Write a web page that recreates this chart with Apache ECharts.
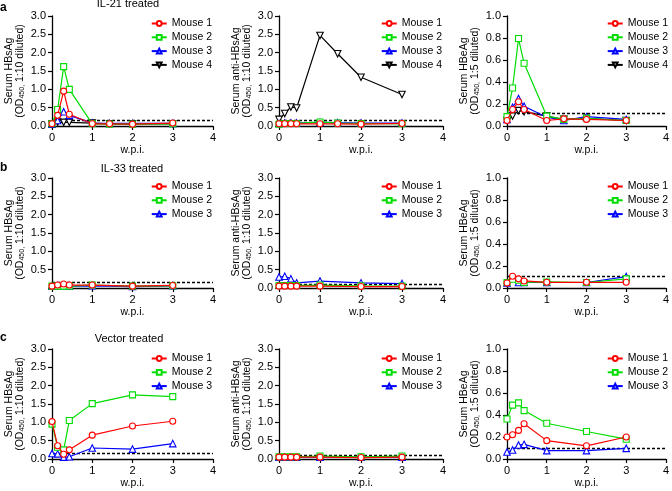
<!DOCTYPE html>
<html><head><meta charset="utf-8">
<script src="https://cdn.jsdelivr.net/npm/echarts@6/dist/echarts.min.js"></script>
<style>html,body{margin:0;padding:0;background:#fff}#c{width:672px;height:491px}</style>
</head><body><div id="c"></div>
<script>
// ---- data ----
const weeksA = [0, 0.14, 0.29, 0.43, 1, 1.43, 2, 3];
const weeksBC = [0, 0.14, 0.29, 0.43, 1, 2, 3];
const xTicks = [0, 1, 2, 3, 4];
const mouseNamesA = ['Mouse 1', 'Mouse 2', 'Mouse 3', 'Mouse 4'];
const mouseNamesBC = ['Mouse 1', 'Mouse 2', 'Mouse 3'];
const rowTitles = ['IL-21 treated', 'IL-33 treated', 'Vector treated'];
const rowLetters = ['a', 'b', 'c'];
const colMarkers = ['Serum HBsAg', 'Serum anti-HBsAg', 'Serum HBeAg'];
const colDilution = ['1:10', '1:10', '1:5'];
const colYMax = [3, 3, 1];
const colYInterval = [0.5, 0.5, 0.2];

// IL-21 treated
const il21_HBsAg_m1 = [0.06, 0.29, 0.95, 0.32, 0.06, 0.06, 0.05, 0.08];
const il21_HBsAg_m2 = [0.06, 0.45, 1.62, 1.00, 0.06, 0.05, 0.05, 0.06];
const il21_HBsAg_m3 = [0.05, 0.15, 0.39, 0.29, 0.08, 0.07, 0.07, 0.07];
const il21_HBsAg_m4 = [0.05, 0.10, 0.10, 0.10, 0.08, 0.06, 0.06, 0.06];
const il21_anti_m1 = [0.06, 0.06, 0.06, 0.06, 0.06, 0.06, 0.05, 0.07];
const il21_anti_m2 = [0.05, 0.07, 0.07, 0.07, 0.11, 0.08, 0.07, 0.06];
const il21_anti_m3 = [0.07, 0.08, 0.08, 0.08, 0.10, 0.09, 0.08, 0.08];
const il21_anti_m4 = [0.18, 0.34, 0.52, 0.49, 2.47, 1.97, 1.33, 0.86];
const il21_HBeAg_m1 = [0.05, 0.15, 0.22, 0.15, 0.05, 0.065, 0.06, 0.05];
const il21_HBeAg_m2 = [0.085, 0.345, 0.795, 0.57, 0.09, 0.06, 0.07, 0.05];
const il21_HBeAg_m3 = [0.06, 0.17, 0.25, 0.18, 0.08, 0.05, 0.085, 0.06];
const il21_HBeAg_m4 = [0.05, 0.09, 0.14, 0.13, 0.09, 0.06, 0.07, 0.05];
// IL-33 treated
const il33_HBsAg_m1 = [0.05, 0.08, 0.11, 0.08, 0.08, 0.05, 0.07];
const il33_HBsAg_m2 = [0.05, 0.05, 0.05, 0.05, 0.08, 0.05, 0.06];
const il33_HBsAg_m3 = [0.05, 0.06, 0.06, 0.05, 0.06, 0.04, 0.06];
const il33_anti_m1 = [0.05, 0.05, 0.05, 0.05, 0.05, 0.04, 0.04];
const il33_anti_m2 = [0.07, 0.07, 0.07, 0.07, 0.08, 0.06, 0.05];
const il33_anti_m3 = [0.30, 0.32, 0.25, 0.14, 0.19, 0.14, 0.12];
const il33_HBeAg_m1 = [0.046, 0.107, 0.083, 0.064, 0.052, 0.052, 0.052];
const il33_HBeAg_m2 = [0.05, 0.08, 0.07, 0.05, 0.055, 0.05, 0.083];
const il33_HBeAg_m3 = [0.045, 0.09, 0.05, 0.05, 0.05, 0.05, 0.104];
// Vector treated
const vec_HBsAg_m1 = [1.02, 0.36, 0.13, 0.25, 0.65, 0.90, 1.03];
const vec_HBsAg_m2 = [0.95, 0.32, 0.25, 1.05, 1.51, 1.75, 1.70];
const vec_HBsAg_m3 = [0.15, 0.14, 0.05, 0.06, 0.30, 0.27, 0.42];
const vec_anti_m1 = [0.05, 0.05, 0.05, 0.05, 0.05, 0.04, 0.05];
const vec_anti_m2 = [0.06, 0.06, 0.06, 0.06, 0.08, 0.06, 0.08];
const vec_anti_m3 = [0.05, 0.05, 0.05, 0.05, 0.05, 0.05, 0.05];
const vec_HBeAg_m1 = [0.20, 0.22, 0.26, 0.32, 0.167, 0.12, 0.20];
const vec_HBeAg_m2 = [0.364, 0.49, 0.51, 0.44, 0.325, 0.25, 0.18];
const vec_HBeAg_m3 = [0.064, 0.082, 0.127, 0.133, 0.076, 0.076, 0.097];
// cutoff (dashed line) per panel
const cutoffA = [0.15, 0.15, 0.12];
const cutoffB = [0.15, 0.10, 0.11];
const cutoffC = [0.15, 0.11, 0.10];

// ---- layout / style ----
const FONT = '"Liberation Sans", Arial, Helvetica, sans-serif';
const cols = [{left: 52, width: 161}, {left: 279, width: 164}, {left: 507, width: 162}];
const rows = [{top: 16, height: 110}, {top: 178, height: 110}, {top: 349, height: 110}];
const legendTops = [18, 181, 353];
const styles = [
  {color: '#ff0000', symbol: 'circle', size: 6},
  {color: '#00dd00', symbol: 'rect', size: 6},
  {color: '#0000ff', symbol: 'triangle', size: 6.5},
  {color: '#000000', symbol: 'path://M0,0 L10,0 L5,8.7 Z', size: 6.5}
];

const panels = [
  [{x: weeksA, ys: [il21_HBsAg_m1, il21_HBsAg_m2, il21_HBsAg_m3, il21_HBsAg_m4], names: mouseNamesA, cut: cutoffA[0]},
   {x: weeksA, ys: [il21_anti_m1, il21_anti_m2, il21_anti_m3, il21_anti_m4], names: mouseNamesA, cut: cutoffA[1]},
   {x: weeksA, ys: [il21_HBeAg_m1, il21_HBeAg_m2, il21_HBeAg_m3, il21_HBeAg_m4], names: mouseNamesA, cut: cutoffA[2]}],
  [{x: weeksBC, ys: [il33_HBsAg_m1, il33_HBsAg_m2, il33_HBsAg_m3], names: mouseNamesBC, cut: cutoffB[0], hideZero: true},
   {x: weeksBC, ys: [il33_anti_m1, il33_anti_m2, il33_anti_m3], names: mouseNamesBC, cut: cutoffB[1]},
   {x: weeksBC, ys: [il33_HBeAg_m1, il33_HBeAg_m2, il33_HBeAg_m3], names: mouseNamesBC, cut: cutoffB[2]}],
  [{x: weeksBC, ys: [vec_HBsAg_m1, vec_HBsAg_m2, vec_HBsAg_m3], names: mouseNamesBC, cut: cutoffC[0]},
   {x: weeksBC, ys: [vec_anti_m1, vec_anti_m2, vec_anti_m3], names: mouseNamesBC, cut: cutoffC[1]},
   {x: weeksBC, ys: [vec_HBeAg_m1, vec_HBeAg_m2, vec_HBeAg_m3], names: mouseNamesBC, cut: cutoffC[2]}]
];

const grid = [], xAxis = [], yAxis = [], series = [], legend = [], graphic = [];
const axisLine = {show: true, onZero: false, lineStyle: {color: '#000', width: 1.3}};
const axisTick = {show: true, inside: false, length: 4, lineStyle: {color: '#000', width: 1.2}};

rows.forEach((r, ri) => {
  cols.forEach((c, ci) => {
    const idx = ri * 3 + ci;
    const p = panels[ri][ci];
    grid.push({left: c.left, top: r.top, width: c.width, height: r.height, containLabel: false});
    xAxis.push({
      type: 'value', gridIndex: idx, min: xTicks[0], max: xTicks[xTicks.length - 1], interval: 1,
      axisLine, axisTick, splitLine: {show: false},
      axisLabel: {color: '#000', fontSize: 11, fontFamily: FONT, margin: 6},
      name: 'w.p.i.', nameLocation: 'middle', nameGap: 19,
      nameTextStyle: {color: '#000', fontSize: 10.5, fontFamily: FONT}
    });
    yAxis.push({
      type: 'value', gridIndex: idx, min: 0, max: colYMax[ci], interval: colYInterval[ci],
      axisLine, axisTick, splitLine: {show: false},
      axisLabel: {color: '#000', fontSize: 11, fontFamily: FONT, margin: 6,
        formatter: v => (p.hideZero && v === 0) ? '' : v.toFixed(1)},
      name: '{t|' + colMarkers[ci] + '}\n{t|(OD}{s|450,}{t| ' + colDilution[ci] + ' diluted)}',
      nameLocation: 'middle', nameGap: 26,
      nameTextStyle: {color: '#000', fontFamily: FONT, fontSize: 10.5, lineHeight: 11,
        rich: {t: {fontSize: 10.5, fontFamily: FONT, color: '#000', lineHeight: 11},
               s: {fontSize: 7, fontFamily: FONT, color: '#000', verticalAlign: 'bottom', lineHeight: 11}}}
    });
    // series drawn in reverse so Mouse 1 is on top
    for (let k = p.ys.length - 1; k >= 0; k--) {
      const st = styles[k];
      const s = {
        type: 'line', name: p.names[k], xAxisIndex: idx, yAxisIndex: idx,
        data: p.x.map((xv, i) => [xv, p.ys[k][i]]),
        symbol: st.symbol, symbolSize: st.size,
        lineStyle: {color: st.color, width: 1.2},
        itemStyle: {color: '#fff', borderColor: st.color, borderWidth: 1.1},
        z: 10 - k, animation: false, silent: true
      };
      if (k === p.ys.length - 1) {
        s.markLine = {silent: true, symbol: ['none', 'none'], label: {show: false}, animation: false,
          lineStyle: {color: '#000', type: [3, 2], width: 1.3}, data: [{yAxis: p.cut}]};
      }
      series.push(s);
    }
    legend.push({
      orient: 'vertical', right: 672 - (c.left + c.width - 1), top: legendTops[ri], padding: 0,
      itemWidth: 15, itemHeight: 6, itemGap: 2.8, selectedMode: false,
      textStyle: {color: '#000', fontSize: 10.5, fontFamily: FONT, lineHeight: 10},
      data: p.names
    });
  });
});

const titlePos = [{x: 128, y: 4}, {x: 132, y: 169}, {x: 129, y: 339}];
const letterPos = [8, 168, 338];
rowTitles.forEach((t, i) => {
  graphic.push({type: 'text', x: titlePos[i].x, y: titlePos[i].y,
    style: {text: t, fill: '#000', font: '11px ' + FONT, textAlign: 'center', textVerticalAlign: 'middle'}});
  graphic.push({type: 'text', x: 0, y: letterPos[i],
    style: {text: rowLetters[i], fill: '#000', font: 'bold 12px ' + FONT, textAlign: 'left', textVerticalAlign: 'middle'}});
});

const chart = echarts.init(document.getElementById('c'), null, {renderer: 'canvas'});
chart.setOption({animation: false, grid, xAxis, yAxis, series, legend, graphic});
</script></body></html>
